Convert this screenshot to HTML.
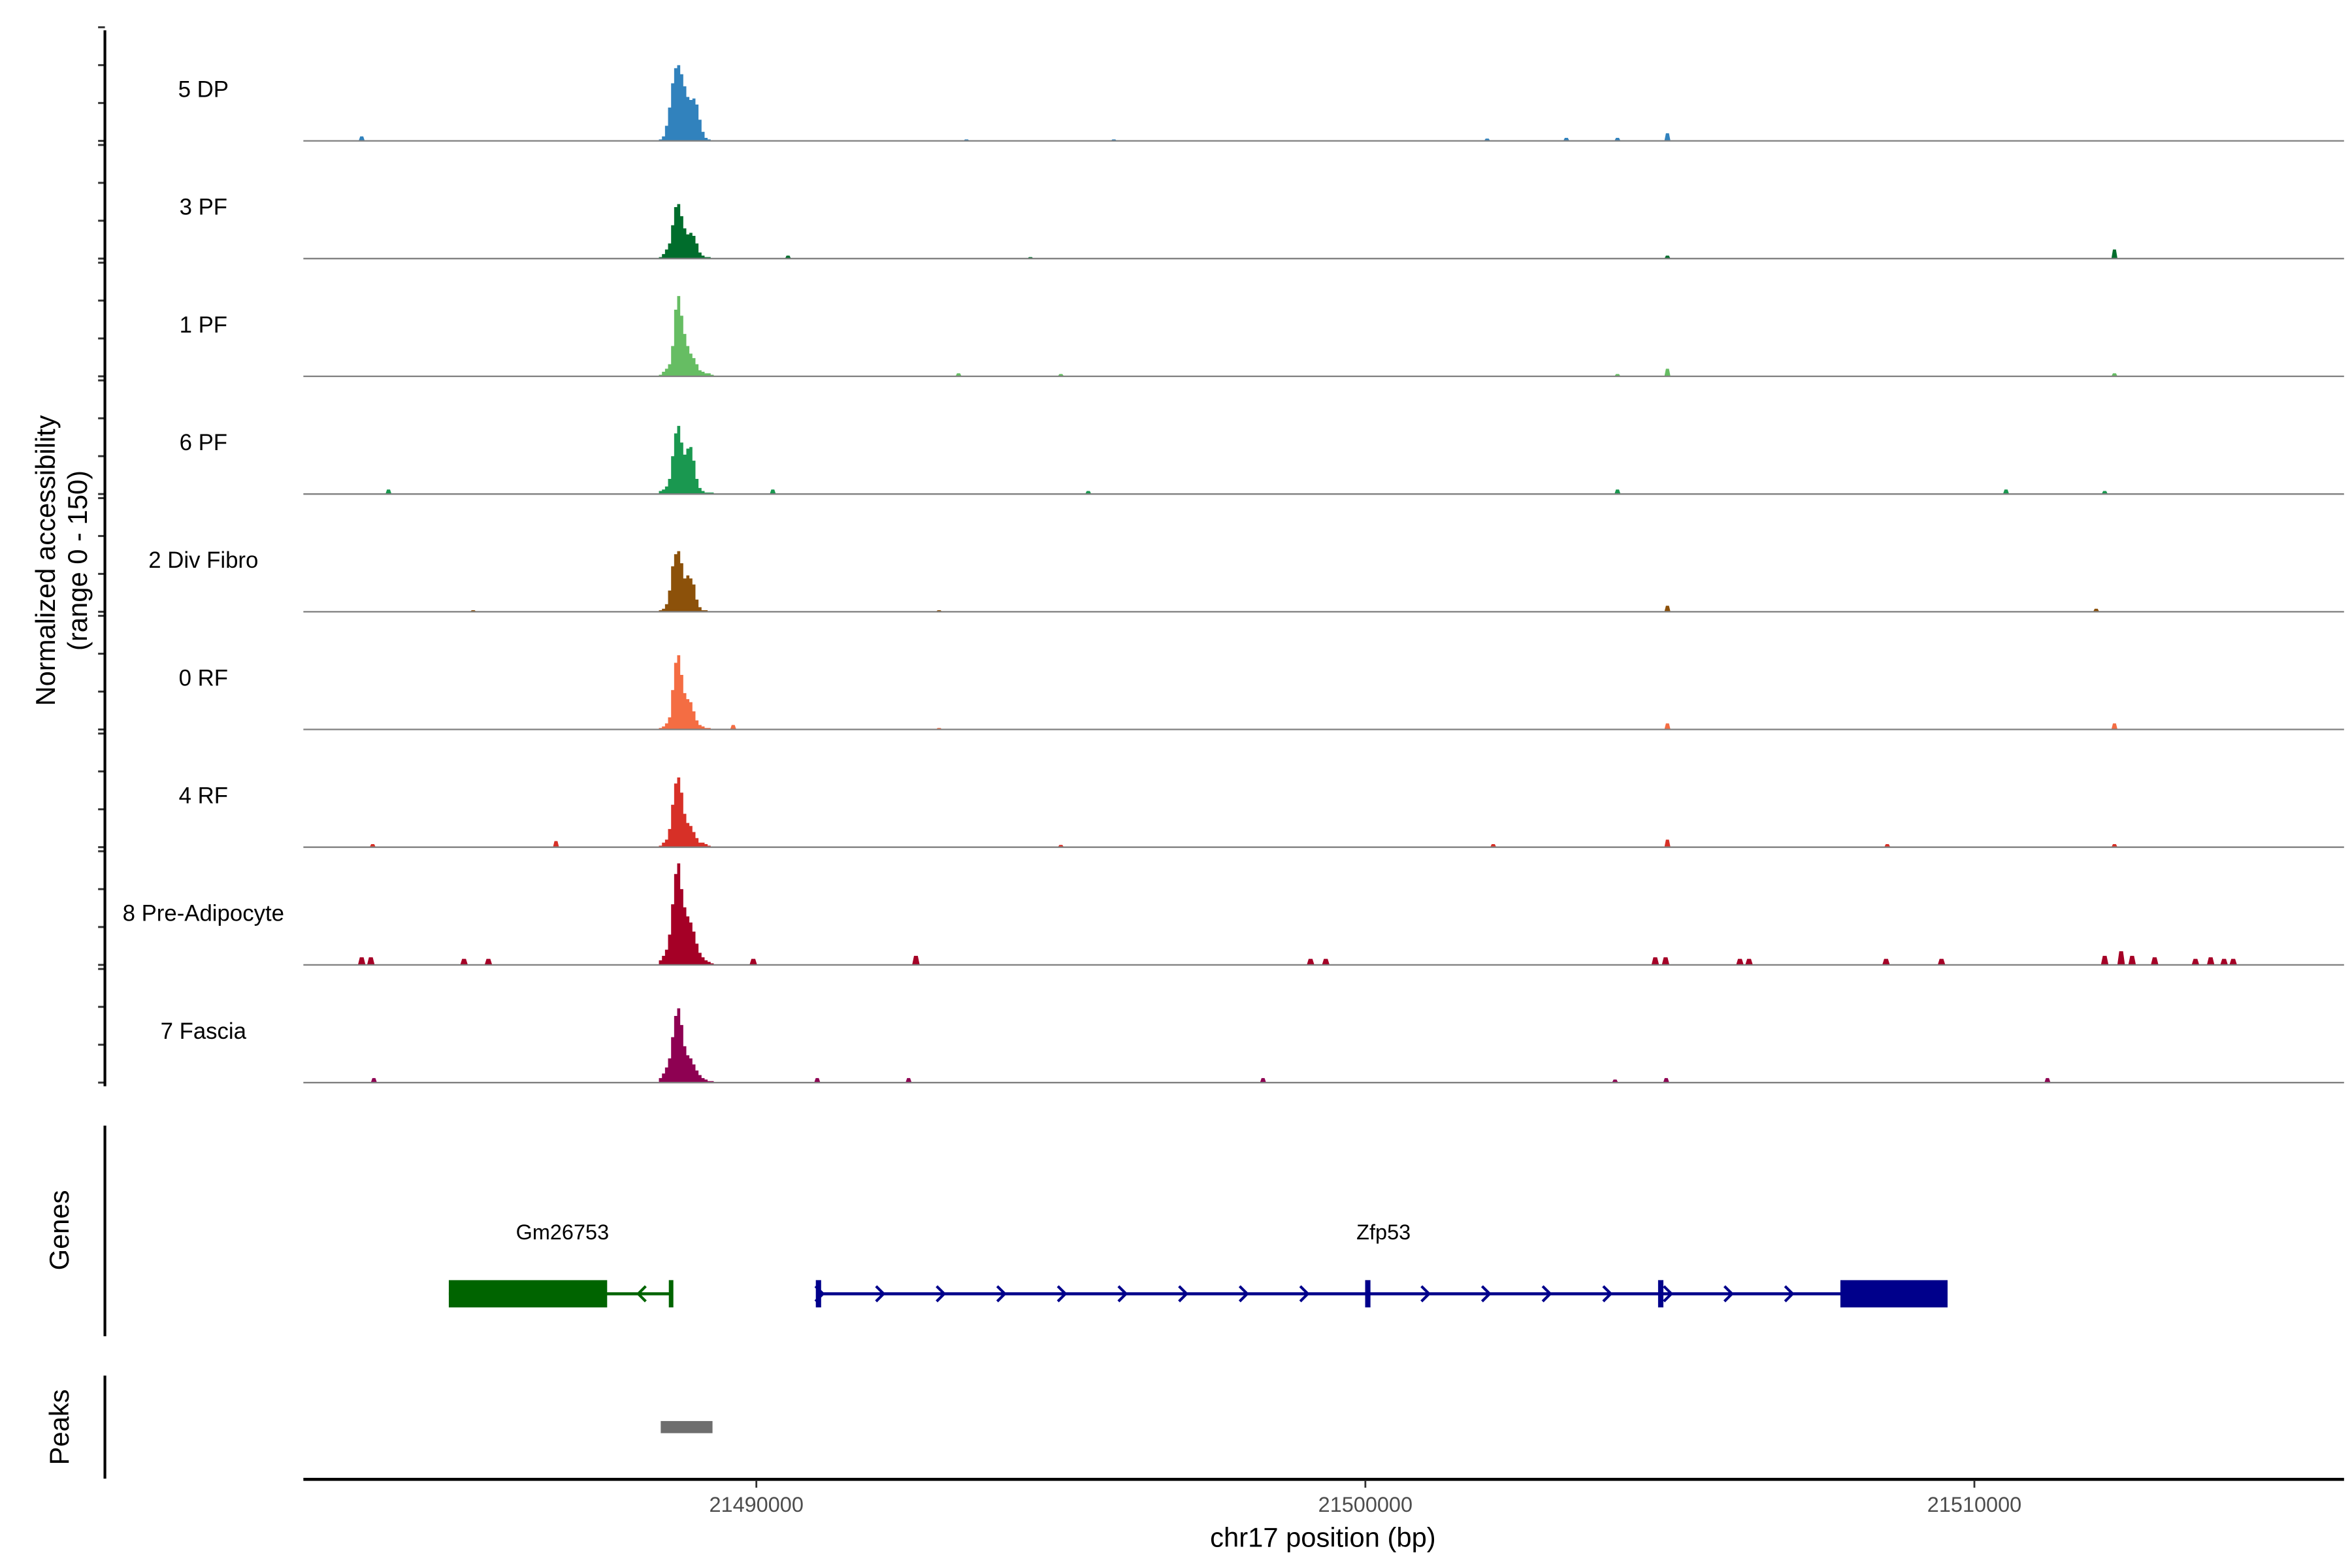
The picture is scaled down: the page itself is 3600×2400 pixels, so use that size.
<!DOCTYPE html>
<html><head><meta charset="utf-8"><style>
html,body{margin:0;padding:0;background:#fff;}
svg{display:block;}
text{font-family:"Liberation Sans",Arial,sans-serif;}
</style></head><body>
<svg id="chart" width="3600" height="2400" viewBox="0 0 1552 1035" xmlns="http://www.w3.org/2000/svg">
<g id="tracks"></g>
<g id="genes"></g>
<g id="axes"></g>
</svg>
<script>
// ---- data ----
const trackNames = ["5 DP","3 PF","1 PF","6 PF","2 Div Fibro","0 RF","4 RF","8 Pre-Adipocyte","7 Fascia"];
const trackColors = ["#3182bd","#006d2c","#66bd63","#1a9850","#8c510a","#f46d43","#d73027","#a50026","#8e0152"];
const peakBinStart = 21488400;
const peakBinStep = 50;
const peak5DP = [2,6,20,44,76,96,100,88,72,58,54,56,48,28,12,4,2,0];
const peak3PF = [2,6,12,20,44,68,72,56,40,32,34,30,20,8,4,2,2,0];
const peak1PF = [2,6,10,16,40,88,106,80,56,40,30,24,16,8,6,4,4,2];
const peak6PF = [4,6,10,20,50,80,90,68,52,60,62,44,20,8,4,2,2,2];
const peakDiv = [2,4,10,28,60,76,80,64,44,48,44,36,16,6,2,2,0,0];
const peak0RF = [2,4,8,16,52,88,98,72,48,40,36,24,12,6,4,2,2,0];
const peak4RF = [2,6,10,24,56,84,92,72,44,32,28,20,12,6,6,4,2,0];
const peakPre = [6,12,20,40,80,120,134,100,76,64,56,44,28,16,10,6,4,2];
const peakFas = [6,12,20,32,60,88,98,76,48,36,32,24,16,10,6,4,2,2];
const peaks = [peak5DP,peak3PF,peak1PF,peak6PF,peakDiv,peak0RF,peak4RF,peakPre,peakFas];
const blipPos5DP = [21483520,21493450,21495870,21502000,21503300,21504140,21504960];
const blipVal5DP = [6,2,2,3,4,4,10];
const blipPos3PF = [21490520,21494500,21504960,21512300];
const blipVal3PF = [4,2,4,12];
const blipPos1PF = [21493320,21495000,21504140,21504960,21512300];
const blipVal1PF = [4,3,3,10,4];
const blipPos6PF = [21483960,21490270,21495450,21504140,21510520,21512140];
const blipVal6PF = [6,6,4,6,6,4];
const blipPosDiv = [21485350,21493000,21504960,21512000];
const blipValDiv = [2,2,8,4];
const blipPos0RF = [21489620,21493000,21504960,21512300];
const blipVal0RF = [6,2,8,8];
const blipPos4RF = [21483700,21486710,21495000,21502100,21504960,21508570,21512300];
const blipVal4RF = [4,8,3,4,10,4,4];
const blipPosPre = [21483520,21483670,21485200,21485600,21488600,21489950,21492620,21499100,21499350,21504760,21504930,21506150,21506300,21508550,21509460,21512140,21512410,21512590,21512960,21513630,21513880,21514100,21514250];
const blipValPre = [10,10,8,8,8,8,12,8,8,10,10,8,8,8,8,12,18,12,10,8,10,8,8];
const blipPosFas = [21483720,21491000,21492500,21498320,21504100,21504940,21511200];
const blipValFas = [6,6,6,6,4,6,6];
const blipPos = [blipPos5DP,blipPos3PF,blipPos1PF,blipPos6PF,blipPosDiv,blipPos0RF,blipPos4RF,blipPosPre,blipPosFas];
const blipVal = [blipVal5DP,blipVal3PF,blipVal1PF,blipVal6PF,blipValDiv,blipVal0RF,blipVal4RF,blipValPre,blipValFas];
const xTicks = [21490000,21500000,21510000];
const xTickLabels = ["21490000","21500000","21510000"];
const yTickVals = [0,50,100,150];
const peakRegion = [21488430,21489280];
const gm26753Exon = [21484950,21487550];
const gm26753Span = [21484950,21488600];
const zfp53Span = [21491020,21509560];
const zfp53SmallExons = [21491020,21500040,21504850];
const zfp53Exon = [21507800,21509560];

// ---- scales ----
const NS="http://www.w3.org/2000/svg";
const X0=200,X1=1547, D0=21482562, D1=21516070;
function xs(bp){return X0+(bp-D0)/(D1-D0)*(X1-X0);}
const pitch=77.7, trackH=75;
function baseY(i){return 93+i*pitch;}
function ys(i,v){return baseY(i)-v/150*trackH;}
function mk(tag,attrs,parent){const e=document.createElementNS(NS,tag);for(const k in attrs)e.setAttribute(k,attrs[k]);parent.appendChild(e);return e;}

const gT=document.getElementById('tracks');
trackNames.forEach((name,i)=>{
  const g=mk('g',{},gT);
  
  
  const col=trackColors[i];
  const pk=peaks[i];
  let d='M'+xs(peakBinStart)+','+baseY(i);
  pk.forEach((v,k)=>{const a=xs(peakBinStart+k*peakBinStep),b=xs(peakBinStart+(k+1)*peakBinStep);d+=' L'+a+','+ys(i,v)+' L'+b+','+ys(i,v);});
  d+=' L'+xs(peakBinStart+pk.length*peakBinStep)+','+baseY(i)+' Z';
  const p=mk('path',{d:d,fill:col},g);
  
  
  blipPos[i].forEach((bp,k)=>{
    const v=blipVal[i][k];
    const w=(i===7)?5:4;
    const r=mk('path',{d:'M'+(xs(bp)-w/2)+','+baseY(i)+' L'+(xs(bp)-w/4)+','+ys(i,v)+' L'+(xs(bp)+w/4)+','+ys(i,v)+' L'+(xs(bp)+w/2)+','+baseY(i)+' Z',fill:col},g);
    
    
  });
  const bl=mk('line',{x1:X0,x2:X1,y1:baseY(i),y2:baseY(i),stroke:'#7f7f7f','stroke-width':1},g);
  
  
  const t=mk('text',{x:134,y:baseY(i)-29,'font-size':15,'text-anchor':'middle',fill:'#000'},g);
  t.textContent=name;
  
  
  yTickVals.forEach(v=>{
    const tk=mk('line',{x1:64.5,x2:69,y1:ys(i,v),y2:ys(i,v),stroke:'#333','stroke-width':1.3},g);
    
    
  });
});

const gA=document.getElementById('axes');
function line(x1,y1,x2,y2,w,c,name){const l=mk('line',{x1,y1,x2,y2,stroke:c,'stroke-width':w},gA);return l;}
function text(x,y,s,fs,anchor,fill,name,rot){const t=mk('text',{x,y,'font-size':fs,'text-anchor':anchor,fill},gA);if(rot)t.setAttribute('transform','rotate(-90 '+x+' '+y+')');t.textContent=s;return t;}
line(69,20,69,717,1.8,'#000','y-axis-line');
line(69,743,69,882,1.8,'#000','genes-axis-line');
line(69,908,69,976,1.8,'#000','peaks-axis-line');
text(36,370,'Normalized accessibility',18,'middle','#000','y-axis-title',true);
text(57,370,'(range 0 - 150)',18,'middle','#000','y-axis-subtitle',true);
text(45,812,'Genes',18,'middle','#000','genes-title',true);
text(45,942,'Peaks',18,'middle','#000','peaks-title',true);
line(X0,976.5,X1,976.5,2,'#000','x-axis-line');
xTicks.forEach((bp,k)=>{
  line(xs(bp),977,xs(bp),982,1.2,'#333','x-tick');
  text(xs(bp),998,xTickLabels[k],14,'middle','#4d4d4d','x-tick-label');
});
text(873,1021,'chr17 position (bp)',18,'middle','#000','x-axis-title');

// genes
const gG=document.getElementById('genes');
function gmk(tag,attrs,name){const e=mk(tag,attrs,gG);return e;}
const gy=854;
gmk('line',{x1:xs(gm26753Span[0]),x2:xs(gm26753Span[1]),y1:gy,y2:gy,stroke:'#006400','stroke-width':2},'gm26753-intron');
gmk('rect',{x:xs(gm26753Exon[0]),y:gy-9,width:xs(gm26753Exon[1])-xs(gm26753Exon[0]),height:18,fill:'#006400'},'gm26753-exon');
gmk('line',{x1:xs(gm26753Span[1]),x2:xs(gm26753Span[1]),y1:gy-9,y2:gy+9,stroke:'#006400','stroke-width':3},'gm26753-exon-end');
gmk('path',{d:'M426,849 L421,854 L426,859',fill:'none',stroke:'#006400','stroke-width':1.8},'gm26753-strand-arrow');
const gl=gmk('text',{x:371,y:818,'font-size':14,'text-anchor':'middle',fill:'#000'},'gm26753-label');gl.textContent='Gm26753';
gmk('line',{x1:xs(zfp53Span[0]),x2:xs(zfp53Span[1]),y1:gy,y2:gy,stroke:'#00008b','stroke-width':2},'zfp53-intron');
zfp53SmallExons.forEach(bp=>gmk('line',{x1:xs(bp),x2:xs(bp),y1:gy-9,y2:gy+9,stroke:'#00008b','stroke-width':3.5},'zfp53-exon'));
gmk('rect',{x:xs(zfp53Exon[0]),y:gy-9,width:xs(zfp53Exon[1])-xs(zfp53Exon[0]),height:18,fill:'#00008b'},'zfp53-exon-large');
[540,580,620,660,700,740,780,820,860,940,980,1020,1060,1100,1140,1180].forEach(x=>{
  gmk('path',{d:'M'+(x-2)+',849 L'+(x+3)+',854 L'+(x-2)+',859',fill:'none',stroke:'#00008b','stroke-width':1.8},'zfp53-strand-arrow');
});
const zl=gmk('text',{x:913,y:818,'font-size':14,'text-anchor':'middle',fill:'#000'},'zfp53-label');zl.textContent='Zfp53';
gmk('rect',{x:xs(peakRegion[0]),y:938,width:xs(peakRegion[1])-xs(peakRegion[0]),height:8,fill:'#6e6e6e'},'peak-region');
</script>
</body></html>
